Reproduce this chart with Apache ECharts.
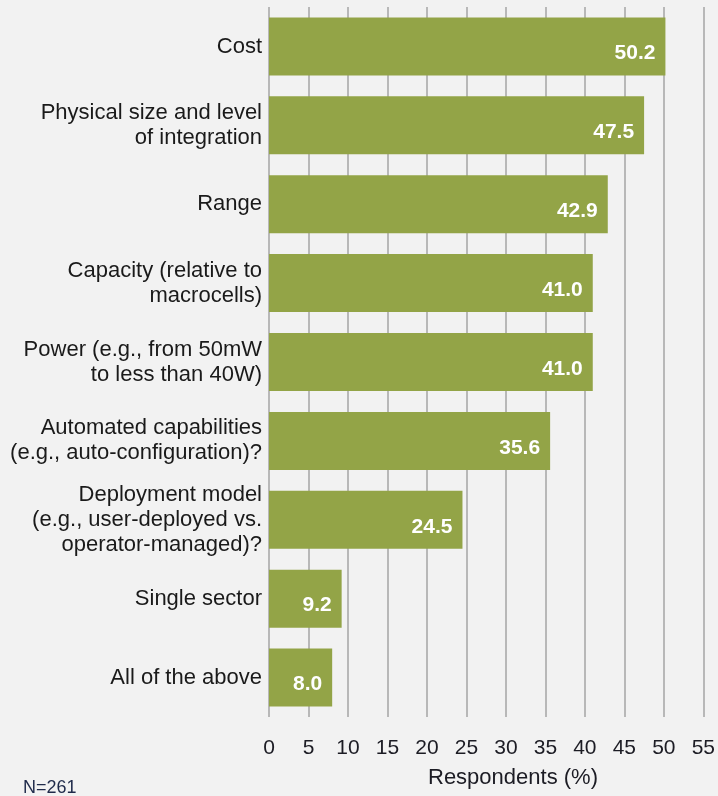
<!DOCTYPE html>
<html>
<head>
<meta charset="utf-8">
<script src="https://cdn.jsdelivr.net/npm/echarts@6/dist/echarts.min.js"></script>
<style>
  html, body { margin: 0; padding: 0; background: #f2f2f2; }
  #chart { width: 718px; height: 796px; }
</style>
</head>
<body>
<div id="chart"></div>
<script>
// Survey: important small-cell attributes, share of respondents
const categories = [
  'Cost',
  'Physical size and level\nof integration',
  'Range',
  'Capacity (relative to\nmacrocells)',
  'Power (e.g., from 50mW\nto less than 40W)',
  'Automated capabilities\n(e.g., auto-configuration)?',
  'Deployment model\n(e.g., user-deployed vs.\noperator-managed)?',
  'Single sector',
  'All of the above'
];
const values = [50.2, 47.5, 42.9, 41.0, 41.0, 35.6, 24.5, 9.2, 8.0];
const xTicks = [0, 5, 10, 15, 20, 25, 30, 35, 40, 45, 50, 55];
const axisTitle = 'Respondents (%)';
const sampleNote = 'N=261';

const FONT = '"Liberation Sans", Arial, sans-serif';
const chart = echarts.init(document.getElementById('chart'), null, { renderer: 'canvas' });

chart.setOption({
  backgroundColor: '#f2f2f2',
  animation: false,
  grid: { left: 269, right: 14.5, top: 7, bottom: 79 },
  xAxis: {
    type: 'value',
    min: xTicks[0],
    max: xTicks[xTicks.length - 1],
    interval: xTicks[1] - xTicks[0],
    axisLine: { show: false },
    axisTick: { show: false },
    splitLine: { show: true, lineStyle: { color: '#a9a9a9', width: 1.6 } },
    axisLabel: {
      margin: 21,
      color: '#1c1c24',
      fontSize: 21,
      fontFamily: FONT,
      formatter: v => xTicks.includes(v) ? String(v) : ''
    }
  },
  yAxis: {
    type: 'category',
    inverse: true,
    data: categories,
    axisLine: { show: false },
    axisTick: { show: false },
    axisLabel: {
      margin: 7,
      color: '#1a1a1a',
      fontSize: 22,
      lineHeight: 25,
      padding: [9, 0, 0, 0],
      fontFamily: FONT,
      align: 'right'
    }
  },
  series: [{
    type: 'bar',
    data: values,
    barCategoryGap: '26.5%',
    itemStyle: { color: '#93a447' },
    label: {
      show: true,
      position: 'insideRight',
      distance: 10,
      offset: [0, 7],
      color: '#ffffff',
      fontWeight: 'bold',
      fontSize: 21,
      fontFamily: FONT,
      formatter: p => p.value.toFixed(1)
    }
  }],
  graphic: [
    {
      type: 'text',
      left: 428,
      top: 767,
      style: { text: axisTitle, fill: '#1c1c24', font: '22px ' + FONT }
    },
    {
      type: 'text',
      left: 23,
      top: 779,
      style: { text: sampleNote, fill: '#1f2a4a', font: '18px ' + FONT }
    }
  ]
});
</script>
</body>
</html>
